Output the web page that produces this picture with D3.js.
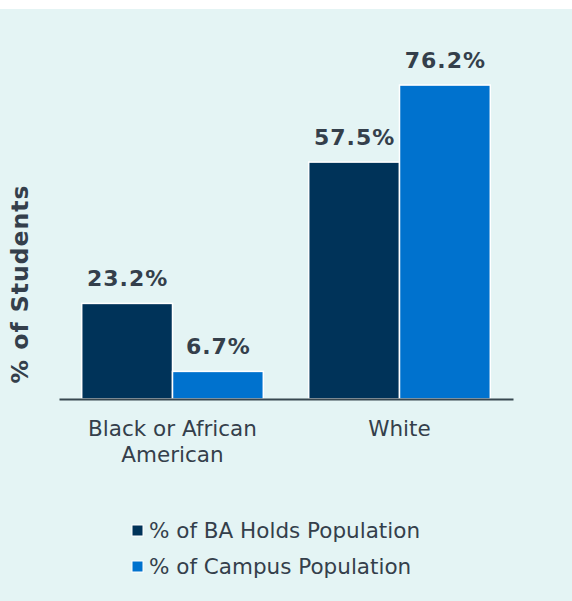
<!DOCTYPE html>
<html>
<head>
<meta charset="utf-8">
<script src="https://cdn.jsdelivr.net/npm/d3@7"></script>
<style>
  html, body { margin: 0; padding: 0; background: #ffffff; }
  svg { display: block; }
  text { font-family: Verdana, "DejaVu Sans", sans-serif; fill: #343f4b; }
</style>
</head>
<body>
<div id="chart"></div>
<script>
// Share of students by race: BA holds vs. campus population
const categories = [["Black or African", "American"], ["White"]];
const seriesNames = ["% of BA Holds Population", "% of Campus Population"];
const baHolds = [23.2, 57.5];
const campus = [6.7, 76.2];
const seriesColors = ["#003359", "#0072ce"];

const W = 572, H = 601;
const svg = d3.select("#chart").append("svg").attr("width", W).attr("height", H);

svg.append("rect").attr("x", 0).attr("y", 9).attr("width", W).attr("height", H - 9)
  .attr("fill", "#e4f4f4");

const plot = { left: 59, right: 513, bottom: 399 };
const pxPerUnit = 4.12;

const x0 = d3.scaleBand().domain(d3.range(categories.length))
  .range([plot.left, plot.right]).paddingInner(0.2).paddingOuter(0.1);
const x1 = d3.scaleBand().domain(d3.range(seriesNames.length))
  .range([0, x0.bandwidth()]).padding(0);
const y = d3.scaleLinear().domain([0, 100])
  .range([plot.bottom, plot.bottom - 100 * pxPerUnit]);

const series = [baHolds, campus];
const g = svg.append("g");

categories.forEach((cat, ci) => {
  series.forEach((vals, si) => {
    const v = vals[ci];
    const bx = x0(ci) + x1(si);
    g.append("rect")
      .attr("x", bx)
      .attr("y", y(v))
      .attr("width", x1.bandwidth())
      .attr("height", y(0) - y(v))
      .attr("fill", seriesColors[si])
      .attr("stroke", "#ffffff")
      .attr("stroke-width", 1.5);
    g.append("text")
      .attr("x", bx + x1.bandwidth() / 2 + 0.5)
      .attr("y", y(v) - 17)
      .attr("text-anchor", "middle")
      .style("font-size", "22px")
      .style("font-weight", "bold")
      .style("letter-spacing", "1px")
      .text(v.toFixed(1) + "%");
  });
});

// Baseline
const xAxis = d3.axisBottom(x0).tickSize(0).tickFormat("");
const axisG = svg.append("g").attr("transform", `translate(0,${plot.bottom})`).call(xAxis);
axisG.select(".domain").attr("stroke", "#37474f").attr("stroke-width", 2);

// Category labels
categories.forEach((lines, ci) => {
  const cx = x0(ci) + x0.bandwidth() / 2;
  const t = svg.append("text")
    .attr("x", cx)
    .attr("y", 436)
    .attr("text-anchor", "middle")
    .style("font-size", "21.5px");
  lines.forEach((ln, li) => {
    t.append("tspan").attr("x", cx)
      .attr("dy", li === 0 ? 0 : 26).text(ln);
  });
});

// Y axis title
svg.append("text")
  .attr("transform", "translate(28,284) rotate(-90)")
  .attr("text-anchor", "middle")
  .style("font-size", "23.5px")
  .style("font-weight", "bold")
  .style("letter-spacing", "1px")
  .text("% of Students");

// Legend
seriesNames.forEach((name, si) => {
  const ly = 531 + si * 36;
  svg.append("rect")
    .attr("x", 132).attr("y", ly - 6).attr("width", 11).attr("height", 11)
    .attr("fill", seriesColors[si]).attr("stroke", "#ffffff").attr("stroke-width", 1);
  svg.append("text")
    .attr("x", 149).attr("y", ly + 7)
    .style("font-size", "21.5px")
    .text(name);
});
</script>
</body>
</html>
